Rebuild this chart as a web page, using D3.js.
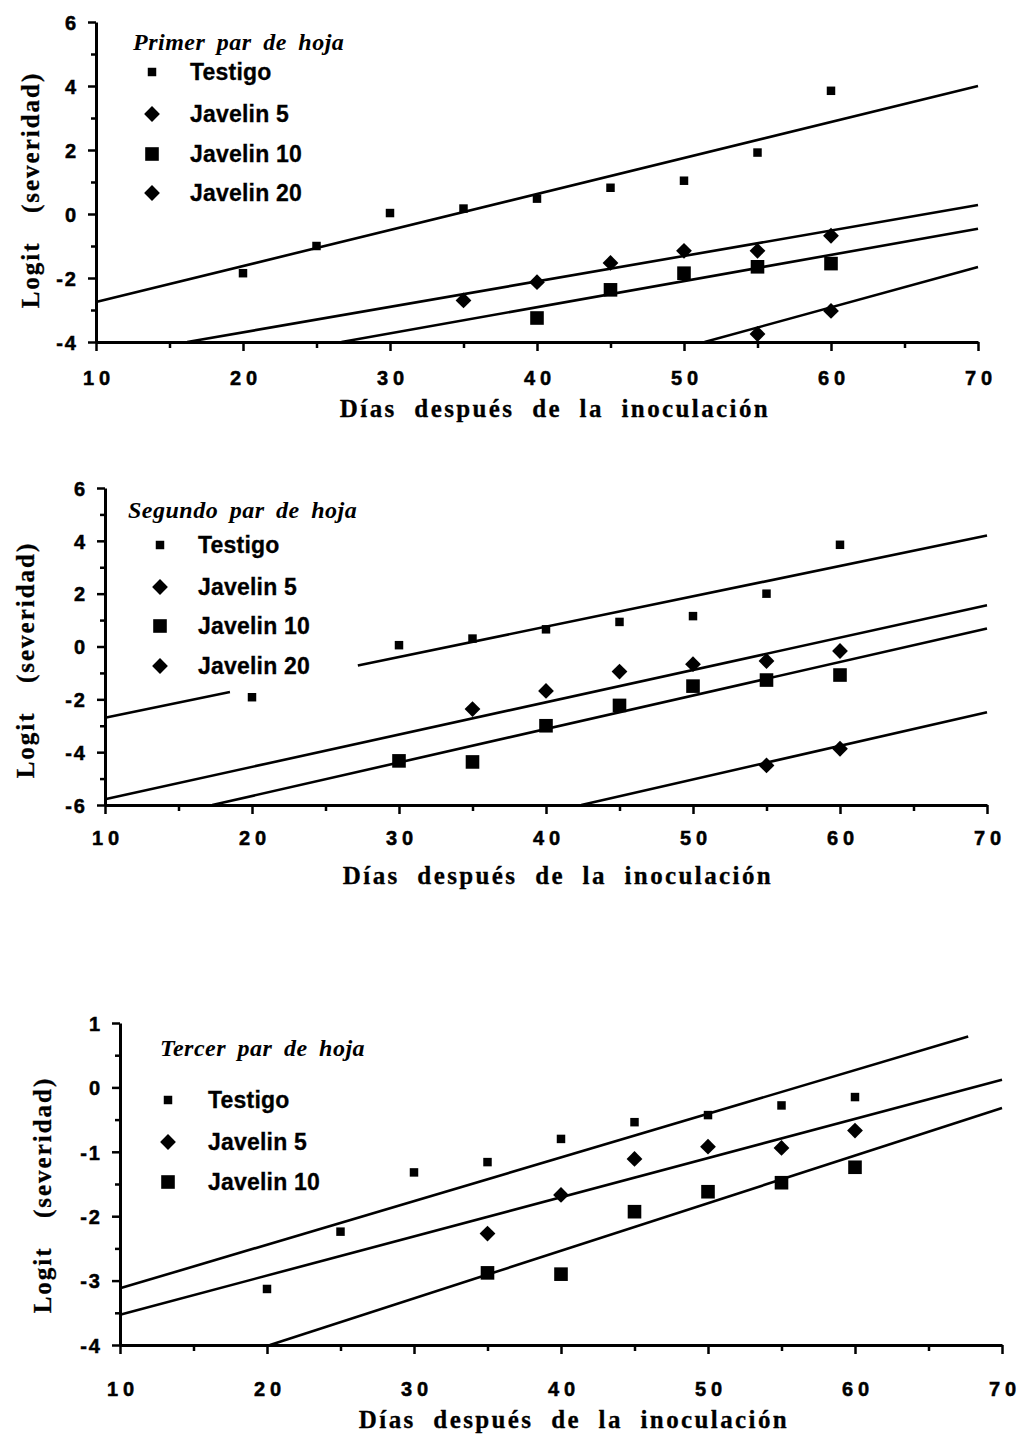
<!DOCTYPE html>
<html><head><meta charset="utf-8">
<script src="https://cdn.jsdelivr.net/npm/d3@7"></script>
<style>body{margin:0;background:#fff}</style>
</head><body>
<svg id="c" width="1022" height="1434"></svg>
<script>
// ---------------- DATA ----------------
const xTicks = [10, 20, 30, 40, 50, 60, 70];
const xTitle = "Días después de la inoculación";
const yTitle = "Logit (severidad)";
const seriesNames = ["Testigo", "Javelin 5", "Javelin 10", "Javelin 20"];

// Panel 1 – Primer par de hoja
const p1Title = "Primer par de hoja";
const p1YTicks = [-4, -2, 0, 2, 4, 6];
const p1TestigoDays = [20, 25, 30, 35, 40, 45, 50, 55, 60];
const p1Testigo = [-1.85, -1.0, 0.03, 0.17, 0.48, 0.82, 1.04, 1.92, 3.85];
const p1Jav5Days = [35, 40, 45, 50, 55, 60];
const p1Jav5 = [-2.7, -2.13, -1.53, -1.15, -1.15, -0.68];
const p1Jav10Days = [40, 45, 50, 55, 60];
const p1Jav10 = [-3.25, -2.37, -1.85, -1.65, -1.55];
const p1Jav20Days = [55, 60];
const p1Jav20 = [-3.75, -3.03];
const p1LineTestigo = [[10, -2.75], [70, 4.0]];
const p1LineJav5 = [[16.2, -4], [70, 0.28]];
const p1LineJav10 = [[26.7, -4], [70, -0.46]];
const p1LineJav20 = [[51.4, -4], [70, -1.66]];

// Panel 2 – Segundo par de hoja
const p2Title = "Segundo par de hoja";
const p2YTicks = [-6, -4, -2, 0, 2, 4, 6];
const p2TestigoDays = [20, 30, 35, 40, 45, 50, 55, 60];
const p2Testigo = [-1.92, 0.05, 0.3, 0.65, 0.93, 1.15, 2.0, 3.85];
const p2Jav5Days = [35, 40, 45, 50, 55, 60];
const p2Jav5 = [-2.37, -1.68, -0.95, -0.67, -0.55, -0.17];
const p2Jav10Days = [30, 35, 40, 45, 50, 55, 60];
const p2Jav10 = [-4.33, -4.37, -3.0, -2.23, -1.5, -1.27, -1.08];
const p2Jav20Days = [55, 60];
const p2Jav20 = [-4.5, -3.87];
const p2LineTestigo = [[10, -2.7], [70, 4.2]];
const p2TestigoGap = [18.5, 27.2];
const p2LineJav5 = [[10, -5.78], [70, 1.56]];
const p2LineJav10 = [[17.3, -6], [70, 0.68]];
const p2LineJav20 = [[42.4, -6], [70, -2.49]];

// Panel 3 – Tercer par de hoja
const p3Title = "Tercer par de hoja";
const p3YTicks = [-4, -3, -2, -1, 0, 1];
const p3TestigoDays = [20, 25, 30, 35, 40, 45, 50, 55, 60];
const p3Testigo = [-3.13, -2.24, -1.32, -1.16, -0.8, -0.54, -0.43, -0.28, -0.15];
const p3Jav5Days = [35, 40, 45, 50, 55, 60];
const p3Jav5 = [-2.27, -1.67, -1.11, -0.92, -0.94, -0.67];
const p3Jav10Days = [35, 40, 45, 50, 55, 60];
const p3Jav10 = [-2.88, -2.9, -1.93, -1.62, -1.48, -1.24];
const p3LineTestigo = [[10, -3.12], [67.7, 0.79]];
const p3LineJav5 = [[10, -3.53], [70, 0.12]];
const p3LineJav10 = [[20.2, -4], [70, -0.32]];

// ---------------- LAYOUT ----------------
const panels = [
  { title: p1Title, yTicks: p1YTicks, yMinorStep: 1,
    px: [96, 978], py: [342, 22],
    xLabY: 385, xTitleY: 417, xTitleX: 555, yTitleX: 30, yTitleY: 190,
    titleX: 133, titleY: 50, legX: 152, legTextX: 190, legY: [72, 114, 154, 193],
    series: [
      { days: p1TestigoDays, vals: p1Testigo, line: p1LineTestigo, sym: "small" },
      { days: p1Jav5Days, vals: p1Jav5, line: p1LineJav5, sym: "diamond" },
      { days: p1Jav10Days, vals: p1Jav10, line: p1LineJav10, sym: "big" },
      { days: p1Jav20Days, vals: p1Jav20, line: p1LineJav20, sym: "diamond" }
    ] },
  { title: p2Title, yTicks: p2YTicks, yMinorStep: 1,
    px: [105, 987], py: [805, 488],
    xLabY: 845, xTitleY: 884, xTitleX: 558, yTitleX: 25, yTitleY: 660,
    titleX: 128, titleY: 518, legX: 160, legTextX: 198, legY: [545, 587, 626, 666],
    series: [
      { days: p2TestigoDays, vals: p2Testigo, line: p2LineTestigo, gap: p2TestigoGap, sym: "small" },
      { days: p2Jav5Days, vals: p2Jav5, line: p2LineJav5, sym: "diamond" },
      { days: p2Jav10Days, vals: p2Jav10, line: p2LineJav10, sym: "big" },
      { days: p2Jav20Days, vals: p2Jav20, line: p2LineJav20, sym: "diamond" }
    ] },
  { title: p3Title, yTicks: p3YTicks, yMinorStep: 0.5,
    px: [120, 1002], py: [1345, 1023],
    xLabY: 1396, xTitleY: 1428, xTitleX: 574, yTitleX: 42, yTitleY: 1195,
    titleX: 160, titleY: 1056, legX: 168, legTextX: 208, legY: [1100, 1142, 1182],
    series: [
      { days: p3TestigoDays, vals: p3Testigo, line: p3LineTestigo, sym: "small" },
      { days: p3Jav5Days, vals: p3Jav5, line: p3LineJav5, sym: "diamond" },
      { days: p3Jav10Days, vals: p3Jav10, line: p3LineJav10, sym: "big" }
    ] }
];

const svg = d3.select("#c");
const SANS = "'Liberation Sans', Arial, sans-serif";
const SERIF = "'Liberation Serif', 'Times New Roman', serif";

function symPath(kind) {
  if (kind === "small") return d3.symbol(d3.symbolSquare, 72)();
  if (kind === "big") return d3.symbol(d3.symbolSquare, 185)();
  return d3.symbol(d3.symbolSquare, 125)();
}
function symTransform(kind, x, y) {
  return kind === "diamond" ? `translate(${x},${y}) rotate(45)` : `translate(${x},${y})`;
}

panels.forEach(p => {
  const yDom = d3.extent(p.yTicks);
  const x = d3.scaleLinear().domain([10, 70]).range(p.px);
  const y = d3.scaleLinear().domain(yDom).range(p.py);
  const g = svg.append("g");

  // minor ticks
  const xMinor = d3.range(15, 70, 10);
  const yMinor = d3.range(yDom[0], yDom[1] + 1e-9, p.yMinorStep).filter(v => !p.yTicks.some(t => Math.abs(t - v) < 1e-9));
  g.append("g").attr("transform", `translate(0,${p.py[0]})`)
    .call(d3.axisBottom(x).tickValues(xMinor).tickSize(6).tickFormat(""))
    .call(a => a.select(".domain").remove())
    .selectAll("line").attr("stroke", "#000").attr("stroke-width", 2.5);
  g.append("g").attr("transform", `translate(${p.px[0]},0)`)
    .call(d3.axisLeft(y).tickValues(yMinor).tickSize(5).tickFormat(""))
    .call(a => a.select(".domain").remove())
    .selectAll("line").attr("stroke", "#000").attr("stroke-width", 2.5);

  // major x axis
  const xa = g.append("g").attr("transform", `translate(0,${p.py[0]})`)
    .call(d3.axisBottom(x).tickValues(xTicks).tickSize(9).tickSizeOuter(0).tickFormat(d => String(d)));
  xa.select(".domain").attr("stroke", "#000").attr("stroke-width", 3);
  xa.selectAll("line").attr("stroke", "#000").attr("stroke-width", 2.5);
  xa.selectAll("text").attr("y", null).attr("dy", null)
    .attr("transform", `translate(2.5,${p.xLabY - p.py[0]})`)
    .attr("font-family", SANS).attr("font-weight", "bold").attr("font-size", 20)
    .attr("letter-spacing", "5px").attr("fill", "#000")
    .attr("stroke", "#000").attr("stroke-width", 0.5);

  // major y axis
  const ya = g.append("g").attr("transform", `translate(${p.px[0]},0)`)
    .call(d3.axisLeft(y).tickValues(p.yTicks).tickSize(8).tickSizeOuter(0).tickFormat(d => String(d)));
  ya.select(".domain").attr("stroke", "#000").attr("stroke-width", 3);
  ya.selectAll("line").attr("stroke", "#000").attr("stroke-width", 2.5);
  ya.selectAll("text").attr("x", -18).attr("dy", "0.36em")
    .attr("font-family", SANS).attr("font-weight", "bold").attr("font-size", 20)
    .attr("letter-spacing", "2px").attr("fill", "#000")
    .attr("stroke", "#000").attr("stroke-width", 0.5);

  // axis titles
  g.append("text").attr("x", p.xTitleX).attr("y", p.xTitleY).attr("text-anchor", "middle")
    .attr("font-family", SERIF).attr("font-weight", "bold").attr("font-size", 25)
    .attr("letter-spacing", "2.4px").attr("word-spacing", "9px")
    .attr("stroke", "#000").attr("stroke-width", 0.3)
    .text(xTitle);
  g.append("text").attr("transform", `translate(${p.yTitleX},${p.yTitleY}) rotate(-90)`)
    .attr("text-anchor", "middle").attr("dy", "0.35em")
    .attr("font-family", SERIF).attr("font-weight", "bold").attr("font-size", 25)
    .attr("letter-spacing", "2px").attr("word-spacing", "20px")
    .attr("stroke", "#000").attr("stroke-width", 0.3)
    .text(yTitle);

  // regression lines
  const lineGen = d3.line().x(d => x(d[0])).y(d => y(d[1]));
  p.series.forEach(s => {
    const [a, b] = s.line;
    const at = t => [t, a[1] + (b[1] - a[1]) * (t - a[0]) / (b[0] - a[0])];
    const segs = s.gap ? [[a, at(s.gap[0])], [at(s.gap[1]), b]] : [[a, b]];
    segs.forEach(seg => g.append("path").attr("d", lineGen(seg))
      .attr("fill", "none").attr("stroke", "#000").attr("stroke-width", 2.6));
  });

  // points
  p.series.forEach(s => {
    g.append("g").selectAll("path").data(s.days.map((d, i) => [d, s.vals[i]])).join("path")
      .attr("d", symPath(s.sym))
      .attr("transform", d => symTransform(s.sym, x(d[0]), y(d[1])))
      .attr("fill", "#000");
  });

  // panel title
  g.append("text").attr("x", p.titleX).attr("y", p.titleY)
    .attr("font-family", SERIF).attr("font-weight", "bold").attr("font-style", "italic")
    .attr("font-size", 24).attr("letter-spacing", "0.5px").attr("word-spacing", "5px")
    .text(p.title);

  // legend
  p.series.forEach((s, i) => {
    const ly = p.legY[i];
    g.append("path").attr("d", symPath(s.sym)).attr("transform", symTransform(s.sym, p.legX, ly)).attr("fill", "#000");
    g.append("text").attr("x", p.legTextX).attr("y", ly).attr("dy", "0.36em")
      .attr("font-family", SANS).attr("font-weight", "bold").attr("font-size", 23)
      .attr("letter-spacing", "0.2px").attr("stroke", "#000").attr("stroke-width", 0.3)
      .text(seriesNames[i]);
  });
});
</script>
</body></html>
